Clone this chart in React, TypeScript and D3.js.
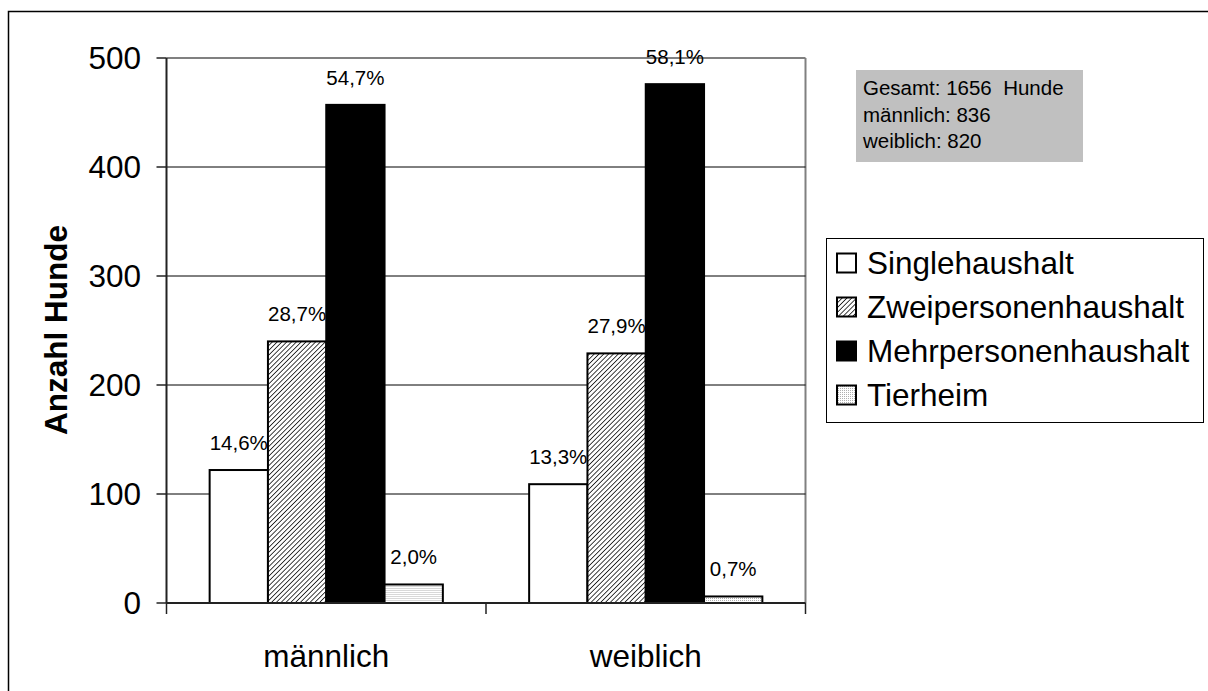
import React from "react";
import * as d3 from "d3";

const categories = ["männlich", "weiblich"];
const series = ["Singlehaushalt", "Zweipersonenhaushalt", "Mehrpersonenhaushalt", "Tierheim"];
const valuesMaennlich = [122, 240, 457, 17];
const valuesWeiblich = [109, 229, 476, 6];
const labelsMaennlich = ["14,6%", "28,7%", "54,7%", "2,0%"];
const labelsWeiblich = ["13,3%", "27,9%", "58,1%", "0,7%"];
const yTicks = [0, 100, 200, 300, 400, 500];
const infoLines = ["Gesamt: 1656  Hunde", "männlich: 836", "weiblich: 820"];

const FONT = "'Liberation Sans', Arial, sans-serif";

export default function App() {
  const W = 1208, H = 691;
  const left = 166.5, right = 805.5, top = 58, bottom = 603;
  const y = d3.scaleLinear().domain([0, 500]).range([bottom, top]);
  const x0 = d3.scaleBand<string>().domain(categories).range([left, right]).padding(0);
  const x1 = d3.scaleBand<string>().domain(series).range([0, x0.bandwidth()]).paddingInner(0).paddingOuter(0.74);
  const fills = ["#ffffff", "url(#hatch)", "#000000", "url(#dots)"];
  const data = [
    { cat: categories[0], values: valuesMaennlich, labels: labelsMaennlich },
    { cat: categories[1], values: valuesWeiblich, labels: labelsWeiblich },
  ];
  const legendX = 837, legendY0 = 263, legendStep = 44;

  return (
    <svg width={W} height={H} style={{ position: "absolute", left: 0, top: 0, background: "#fff" }} fontFamily={FONT}>
      <defs>
        <pattern id="hatch" patternUnits="userSpaceOnUse" width="3.4" height="3.4" patternTransform="rotate(45)">
          <rect width="3.4" height="3.4" fill="#fff" />
          <line x1="0" y1="0" x2="0" y2="3.4" stroke="#000" strokeWidth="1.5" />
        </pattern>
        <pattern id="dots" patternUnits="userSpaceOnUse" width="2" height="2">
          <rect width="2" height="2" fill="#fff" />
          <rect width="1" height="1" fill="#b0b0b0" />
        </pattern>
      </defs>
      <rect x={8.5} y={11.5} width={1220} height={720} fill="#fff" stroke="#000" strokeWidth={1.5} />

      {/* plot frame */}
      <line x1={left} x2={right} y1={top} y2={top} stroke="#808080" strokeWidth={2} />
      <line x1={right} x2={right} y1={top} y2={bottom} stroke="#808080" strokeWidth={2} />
      {yTicks.filter((t) => t > 0 && t < 500).map((t) => (
        <line key={t} x1={left} x2={right} y1={y(t)} y2={y(t)} stroke="#000" strokeWidth={1} />
      ))}

      {/* bars */}
      {data.map((g) => (
        <g key={g.cat} transform={`translate(${x0(g.cat)},0)`}>
          {series.map((s, i) => (
            <rect key={s} x={x1(s)} y={y(g.values[i])} width={x1.bandwidth()} height={bottom - y(g.values[i])}
              fill={fills[i]} stroke="#000" strokeWidth={2} />
          ))}
          {series.map((s, i) => (
            <text key={s + "l"} x={(x1(s) as number) + x1.bandwidth() / 2} y={y(g.values[i]) - 20}
              textAnchor="middle" fontSize={20.5} fill="#000">{g.labels[i]}</text>
          ))}
        </g>
      ))}

      {/* axes */}
      <line x1={left} x2={left} y1={top} y2={bottom} stroke="#222" strokeWidth={2} />
      <line x1={left} x2={right} y1={bottom} y2={bottom} stroke="#222" strokeWidth={2} />
      {yTicks.map((t) => (
        <g key={t}>
          <line x1={left - 10} x2={left} y1={y(t)} y2={y(t)} stroke="#222" strokeWidth={1.5} />
          <text x={141} y={y(t)} dy="0.36em" textAnchor="end" fontSize={31.5} fill="#000">{t}</text>
        </g>
      ))}
      {[left, ...categories.map((c) => (x0(c) as number) + x0.bandwidth())].map((xx, i) => (
        <line key={i} x1={xx} x2={xx} y1={bottom} y2={bottom + 11} stroke="#222" strokeWidth={1.5} />
      ))}
      {categories.map((c) => (
        <text key={c} x={(x0(c) as number) + x0.bandwidth() / 2} y={667} textAnchor="middle" fontSize={31.5} fill="#000">{c}</text>
      ))}
      <text transform={`translate(67,330) rotate(-90)`} textAnchor="middle" fontSize={31.5} fontWeight="bold" fill="#000">Anzahl Hunde</text>

      {/* info box */}
      <rect x={856} y={70} width={227} height={92} fill="#c0c0c0" />
      {infoLines.map((l, i) => (
        <text key={i} x={863} y={95 + i * 26.5} fontSize={20.5} fill="#000" style={{ whiteSpace: "pre" }}>{l}</text>
      ))}

      {/* legend */}
      <rect x={826.5} y={238.5} width={377} height={184} fill="#fff" stroke="#000" strokeWidth={1} />
      {series.map((s, i) => (
        <g key={s}>
          <rect x={legendX} y={legendY0 + i * legendStep - 9.5} width={19} height={19} fill={fills[i]} stroke="#000" strokeWidth={2} />
          <text x={867} y={legendY0 + i * legendStep} dy="0.36em" fontSize={31.5} fill="#000">{s}</text>
        </g>
      ))}
    </svg>
  );
}
